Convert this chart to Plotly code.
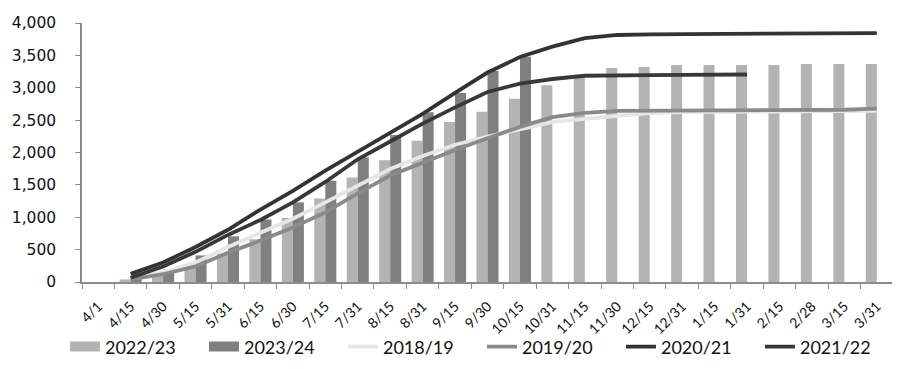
import plotly.graph_objects as go

categories = ["4/1", "4/15", "4/30", "5/15", "5/31", "6/15", "6/30", "7/15", "7/31", "8/15",
              "8/31", "9/15", "9/30", "10/15", "10/31", "11/15", "11/30", "12/15", "12/31",
              "1/15", "1/31", "2/15", "2/28", "3/15", "3/31"]

s2022_23 = [None, 40, 110, 240, 440, 660, 990, 1290, 1615, 1880, 2180, 2470, 2630, 2830,
            3040, 3165, 3305, 3320, 3350, 3350, 3350, 3350, 3365, 3365, 3365]
s2023_24 = [None, 70, 190, 410, 705, 965, 1230, 1565, 1925, 2270, 2620, 2920, 3260, 3480,
            None, None, None, None, None, None, None, None, None, None, None]
s2018_19 = [None, 50, 150, 300, 541, 760, 978, 1230, 1494, 1745, 1945, 2120, 2245, 2360,
            2470, 2520, 2570, 2610, 2625, 2630, 2630, 2635, 2640, 2640, 2645]
s2019_20 = [None, 40, 120, 240, 450, 640, 842, 1075, 1369, 1644, 1845, 2040, 2220, 2396,
            2546, 2612, 2642, 2645, 2645, 2645, 2648, 2648, 2650, 2660, 2677]
s2020_21 = [None, 125, 300, 541, 807, 1118, 1409, 1719, 2015, 2296, 2597, 2920, 3235, 3474,
            3635, 3765, 3815, 3825, 3828, 3830, 3830, 3830, 3830, 3832, 3845]
s2021_22 = [None, 65, 240, 466, 727, 958, 1229, 1545, 1895, 2170, 2447, 2697, 2935, 3065,
            3135, 3185, 3195, 3195, 3200, 3200, 3205, None, None, None, None]

LIGHT_BAR = "#b3b3b3"
DARK_BAR = "#808080"
LEG_FONT = dict(family="Lato", size=18, color="#111111")

fig = go.Figure()
fig.add_trace(go.Bar(x=categories, y=s2022_23, name="2022/23", marker_color=LIGHT_BAR,
                     marker_line_width=0, showlegend=False, offsetgroup="a"))
fig.add_trace(go.Bar(x=categories, y=s2023_24, name="2023/24", marker_color=DARK_BAR,
                     marker_line_width=0, showlegend=False, offsetgroup="b"))
# legend swatches for the bars
fig.add_trace(go.Scatter(x=[None], y=[None], mode="lines", name="2022/23",
                         line=dict(color=LIGHT_BAR, width=11)))
fig.add_trace(go.Scatter(x=[None], y=[None], mode="lines", name="2023/24",
                         line=dict(color=DARK_BAR, width=11)))

line_specs = [("2018/19", s2018_19, "#e6e6e6"),
              ("2019/20", s2019_20, "#8a8a8a"),
              ("2020/21", s2020_21, "#333333"),
              ("2021/22", s2021_22, "#383838")]
for name, vals, col in line_specs:
    fig.add_trace(go.Scatter(x=categories, y=vals, mode="lines", name=name,
                             line=dict(color=col, width=3.8), connectgaps=False))

fig.update_layout(
    width=900, height=369,
    margin=dict(l=74, r=15, t=15, b=88),
    paper_bgcolor="white", plot_bgcolor="white",
    barmode="group", bargap=0.32, bargroupgap=0,
    legend=dict(orientation="h", x=-0.021, xanchor="left", y=-0.322, yanchor="bottom",
                font=LEG_FONT, entrywidth=94, entrywidthmode="pixels",
                itemwidth=30, tracegroupgap=0, bgcolor="rgba(0,0,0,0)"),
    xaxis=dict(type="category", categoryorder="array", categoryarray=categories,
               showline=True, linecolor="#8c8c8c", linewidth=1.5,
               ticks="outside", tickson="boundaries", ticklen=5, tickcolor="#8c8c8c",
               tickangle=-45, tickfont=dict(family="Lato", size=14, color="#111111"),
               ticklabelstandoff=9, automargin=False,
               showgrid=False, zeroline=False),
    yaxis=dict(range=[0, 4000], tickvals=[0, 500, 1000, 1500, 2000, 2500, 3000, 3500, 4000],
               tickformat=",d", showline=True, linecolor="#8c8c8c", linewidth=1.5,
               ticks="outside", ticklen=5, tickcolor="#8c8c8c", ticklabelstandoff=16,
               tickfont=dict(family="DejaVu Sans", size=15.5, color="#111111"),
               automargin=False, showgrid=False, zeroline=False),
)

fig.write_html("out.html")
